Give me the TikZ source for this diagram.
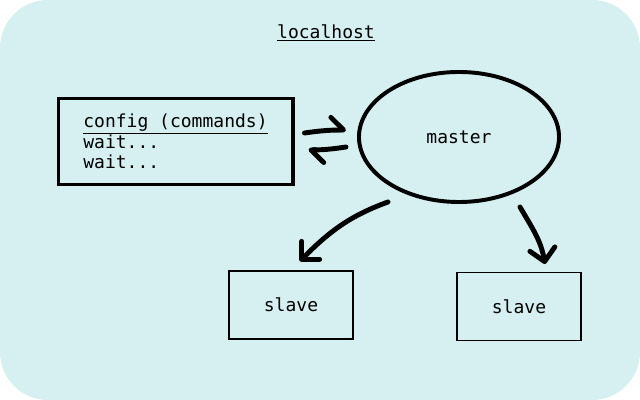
\documentclass[tikz,border=0pt]{standalone}
\usepackage{fontspec}
\setmonofont{DejaVu Sans Mono}
\usetikzlibrary{shapes.geometric,arrows.meta,positioning}
\definecolor{hostbg}{RGB}{214,240,242}

\begin{document}
\begin{tikzpicture}[x=0.025cm,y=0.025cm,font=\ttfamily\fontsize{12.8}{14.5}\selectfont,
  cfgbox/.style={draw, line width=2.8pt, minimum width=5.85cm, minimum height=2.15cm, align=left, inner sep=0pt},
  slavebox/.style={draw, line width=1.4pt, minimum width=3.1cm, minimum height=1.7cm, inner sep=0pt},
  scrawl/.style={line width=3.5pt, line cap=round, -{Straight Barb[round,length=9pt,width=18pt]}},
  harpoon/.style={line width=3.5pt, line cap=round, -{Straight Barb[round,left,length=9pt,width=18pt]}}]

  \useasboundingbox (0,0) rectangle (640,400);
  \fill[hostbg, rounded corners=1.2cm] (0,0) rectangle (640,400);

  \node (host) at (326,367) {\underline{localhost}};

  \node[cfgbox] (cfg) at (175.5,258.5) {\underline{config (commands)}\\wait...\\wait...};
  \node[ellipse, draw, line width=2.8pt, minimum width=5.0cm, minimum height=3.25cm, inner sep=0pt] (master) at (459,263) {master};
  \node[slavebox] (s1) at (291,95) {slave};
  \node[slavebox] (s2) at (519,93.5) {slave};

  \path
    ([shift={(10,8.5)}]cfg.east) edge[harpoon, bend left=4] ([shift={(-11,7)}]master.west)
    ([shift={(-11,-10)}]master.west) edge[harpoon, bend left=4] ([shift={(14,-8.5)}]cfg.east)

    ([shift={(-71,2)}]master.south) edge[scrawl, out=200, in=45] ([shift={(9,9)}]s1.north)
    ([shift={(61,-3)}]master.south) edge[scrawl, out=-60, in=100] ([shift={(26,7.5)}]s2.north);
\end{tikzpicture}
\end{document}
